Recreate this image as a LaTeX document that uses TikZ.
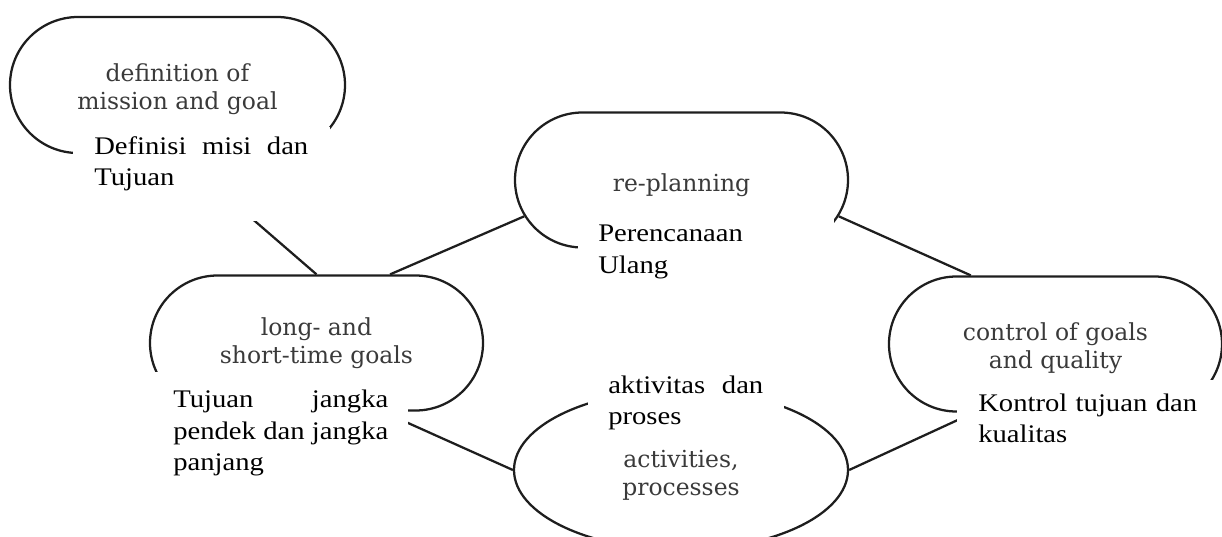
\documentclass[tikz,border=0pt]{standalone}
\usepackage{fontspec}
\newfontfamily\blkfont{Liberation Serif}[FakeStretch=1.13]
\newfontfamily\gryfont{DejaVu Serif}
\usetikzlibrary{shapes.misc,shapes.geometric}
\definecolor{graytxt}{RGB}{58,58,58}
\definecolor{ink}{RGB}{30,30,30}
\begin{document}
\begin{tikzpicture}[x=0.75pt,y=-0.75pt,
  stadium/.style={rounded rectangle, draw=ink, line width=1.7pt,
    minimum width=249.75pt, minimum height=101.25pt, inner sep=0pt},
  oval/.style={ellipse, draw=ink, line width=1.7pt,
    minimum width=250.5pt, minimum height=120pt, inner sep=0pt},
  graylbl/.style={inner sep=0pt, font=\gryfont\fontsize{17.6}{21}\selectfont,
    text=graytxt, align=center},
  link/.style={draw=ink, line width=1.7pt},
  cover/.style={fill=white},
  note/.style={anchor=base west, inner sep=0pt,
    font=\blkfont\fontsize{19}{23.6}\selectfont, align=left}]
\useasboundingbox (0,0) rectangle (1222,536);

% shapes
\node[stadium, minimum width=251.25pt, minimum height=102pt] (def) at (177.5,85) {};
\node[stadium] (long) at (316.5,343) {};
\node[stadium] (replan) at (681.5,180) {};
\node[stadium] (ctrl) at (1055.5,344) {};
\node[oval] (act) at (681,470) {};

% English labels
\node[graylbl, yshift=-3pt] (defL) at (def) {definition of\\mission and goal};
\node[graylbl] (longL) at (long) {long- and\\short-time goals};
\node[graylbl, yshift=-4.2pt] (replanL) at (replan) {re-planning};
\node[graylbl, yshift=-3.2pt] (ctrlL) at (ctrl) {control of goals\\and quality};
\node[graylbl, yshift=-3.7pt] (actL) at (act) {activities,\\processes};

% connectors
\draw[link] (def.south) -- (long.north);
\draw[link] (long.43) -- (replan.193);
\draw[link] (replan.-13) -- (ctrl.141);
\draw[link] (long.-46) -- (act.west);
\draw[link] (act.east) -- (ctrl.220);

% white boxes behind the translations
\fill[cover] (73,127) rectangle (330,221);
\fill[cover] (140,372) rectangle (408,480);
\fill[cover] (578,217) rectangle (834,280);
\fill[cover] (957,380) rectangle (1213,450);
\fill[cover] (588,365) rectangle (784,435);

% translations
\node[note, text width=160.5pt] (tdef) at (94,154) {Definisi\hfill misi\hfill dan\\Tujuan};
\node[note, text width=161.25pt] (tlong) at (173,407.7) {Tujuan\hfill jangka\\pendek\hfill dan\hfill jangka\\panjang};
\node[note, text width=120pt] (treplan) at (598,241.7) {Perencanaan\\Ulang};
\node[note, text width=175pt] (tctrl) at (978,411) {Kontrol tujuan dan\\kualitas};
\node[note, text width=116.25pt] (tact) at (608,393.3) {aktivitas\hfill dan\\proses};
\end{tikzpicture}
\end{document}
